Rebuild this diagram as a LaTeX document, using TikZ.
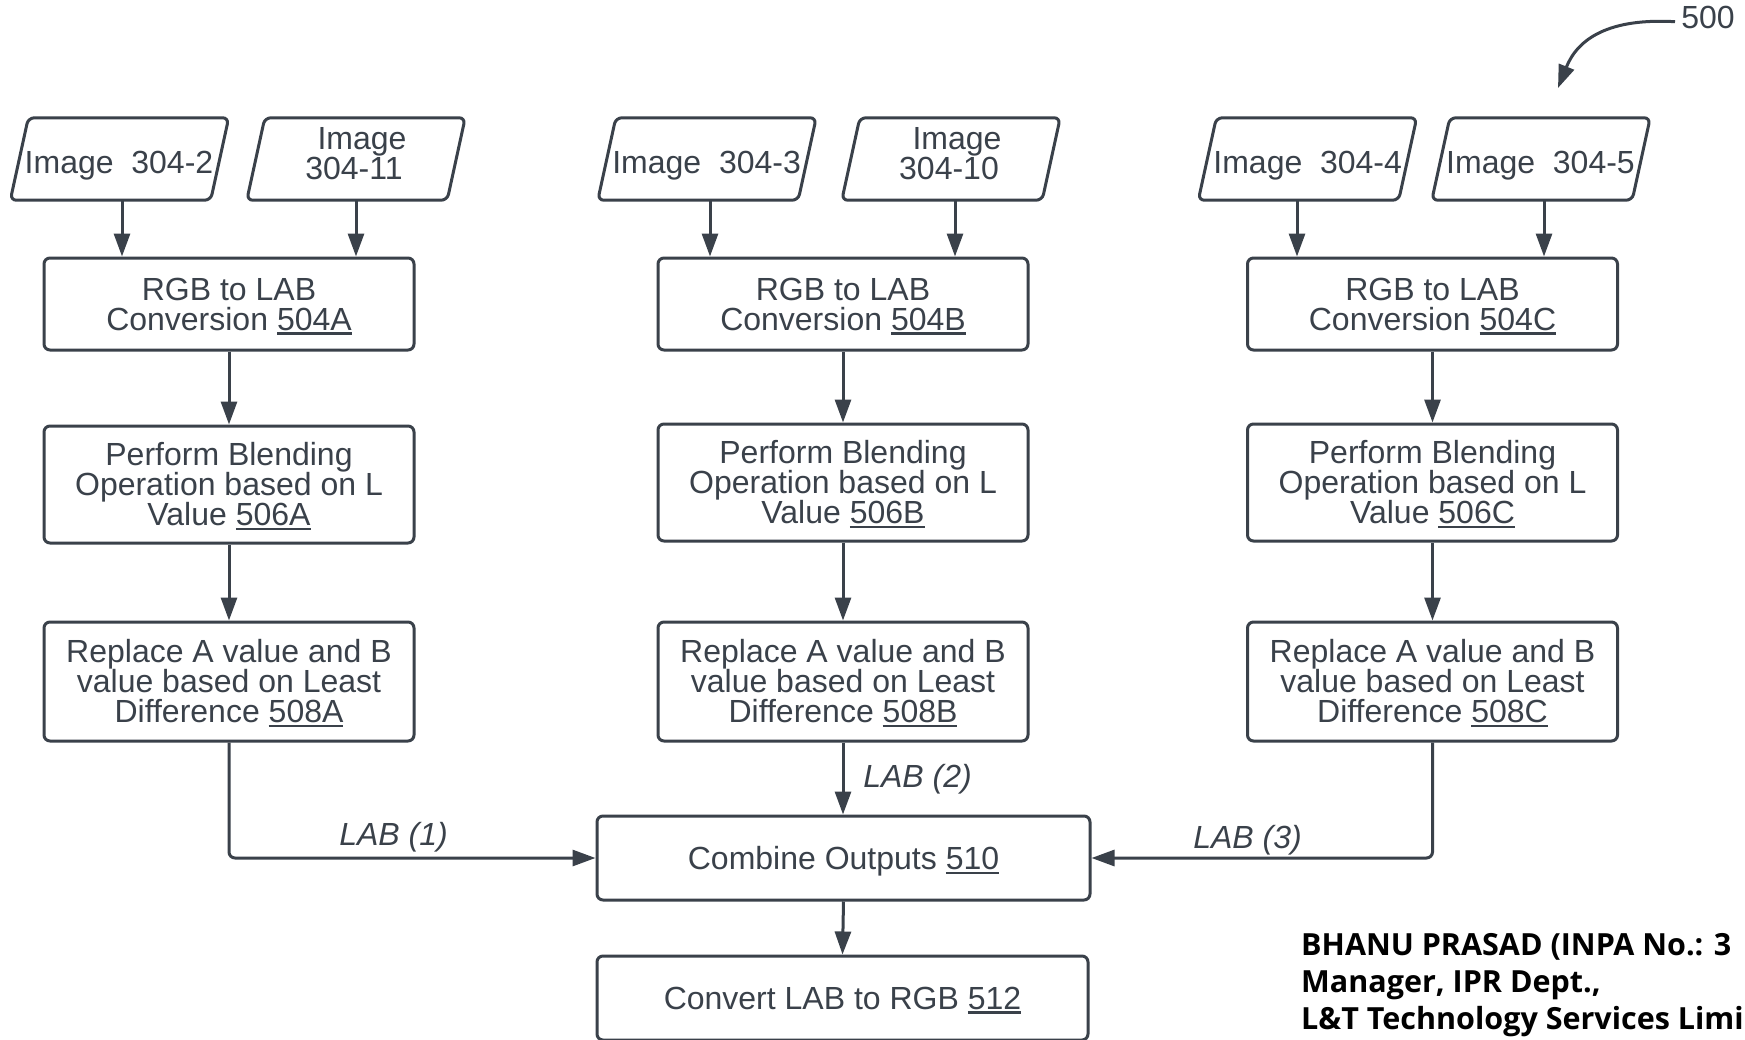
\documentclass[tikz,border=0pt]{standalone}
\usepackage{fontspec}
\setmainfont{Liberation Sans}
\newfontfamily\sigfont{Open Sans}
\usetikzlibrary{arrows.meta,calc}
\definecolor{ink}{RGB}{58,65,74}
% underlined reference numeral
\newcommand\refnum[1]{\setbox0=\hbox{#1}\rlap{\smash{\rule[-4.5pt]{\wd0}{2.2pt}}}\box0}

\begin{document}
\begin{tikzpicture}[x=1pt,y=-1pt,
  every node/.style={inner sep=0pt},
  txt/.style={font=\fontsize{32}{30}\selectfont, text=ink, align=center},
  stepbox/.style={txt, draw=ink, line width=3pt, rounded corners=6pt, minimum width=370pt},
  imgframe/.style={minimum width=218pt, minimum height=82pt},
  paraline/.style={draw=ink, line width=3pt, rounded corners=6pt},
  imgtext/.style={txt, anchor=south},
  arr/.style={draw=ink, line width=3pt, -{Triangle[length=23pt,width=16pt]}},
  lablbl/.style={font=\fontsize{32}{30}\selectfont\itshape, text=ink, anchor=base},
  sigtext/.style={font=\fontsize{30.5}{36}\selectfont\sigfont\bfseries, text=black, anchor=base west}
]
\useasboundingbox (0,0) rectangle (1745,1039);
\fill[white] (0,0) rectangle (1745,1039);

% ---- input images (parallelograms) ----
\foreach \n/\x in {p2/119.5, p11/356, p3/707, p10/951, p4/1307.5, p5/1541}{
  \node[imgframe] (\n) at (\x,159) {};
  \draw[paraline] (\n.south west) -- ($(\n.south east)+(-18,0)$) -- (\n.north east)
    -- ($(\n.north west)+(18,0)$) -- cycle;
}
\node[imgtext, text depth=0pt] (t2) at (119,173.6) {Image\ \ 304-2};
\node[imgtext] (t11) at (354,180) {\hspace*{16pt}Image\\304-11};
\node[imgtext, text depth=0pt] (t3) at (706.6,173.6) {Image\ \ 304-3};
\node[imgtext] (t10) at (949,180) {\hspace*{16pt}Image\\304-10};
\node[imgtext, text depth=0pt] (t4) at (1307.7,173.6) {Image\ \ 304-4};
\node[imgtext, text depth=0pt] (t5) at (1540.5,173.6) {Image\ \ 304-5};

% ---- processing steps ----
\node[stepbox, minimum height=92pt] (rgbA) at (229,304) {RGB to LAB\\Conversion \refnum{504A}};
\node[stepbox, minimum height=92pt] (rgbB) at (843,304) {RGB to LAB\\Conversion \refnum{504B}};
\node[stepbox, minimum height=92pt] (rgbC) at (1432.5,304) {RGB to LAB\\Conversion \refnum{504C}};

\node[stepbox, minimum height=117pt] (blA) at (229,484.5) {Perform Blending\\Operation based on L\\Value \refnum{506A}};
\node[stepbox, minimum height=117pt] (blB) at (843,482.5) {Perform Blending\\Operation based on L\\Value \refnum{506B}};
\node[stepbox, minimum height=117pt] (blC) at (1432.5,482.5) {Perform Blending\\Operation based on L\\Value \refnum{506C}};

\node[stepbox, minimum height=119pt] (repA) at (229,681.5) {Replace A value and B\\value based on Least\\Difference \refnum{508A}};
\node[stepbox, minimum height=119pt] (repB) at (843,681.5) {Replace A value and B\\value based on Least\\Difference \refnum{508B}};
\node[stepbox, minimum height=119pt] (repC) at (1432.5,681.5) {Replace A value and B\\value based on Least\\Difference \refnum{508C}};

\node[stepbox, minimum width=493pt, minimum height=84pt, text depth=0pt] (comb) at (843.5,858) {Combine Outputs \refnum{510}};
\node[stepbox, minimum width=491pt, minimum height=84pt, text depth=-1.5pt] (conv) at (842.5,998) {Convert LAB to RGB \refnum{512}};

% ---- image inputs into the conversion steps ----
\coordinate (a2) at ($(p2.south)+(2.5,0)$);
\coordinate (a11) at ($(p11.south)+(0,0)$);
\coordinate (a3) at ($(p3.south)+(3,0)$);
\coordinate (a10) at ($(p10.south)+(4,0)$);
\coordinate (a4) at ($(p4.south)+(-10.5,0)$);
\coordinate (a5) at ($(p5.south)+(3,0)$);
\draw[arr] (a2) -- (a2 |- rgbA.north);
\draw[arr] (a11) -- (a11 |- rgbA.north);
\draw[arr] (a3) -- (a3 |- rgbB.north);
\draw[arr] (a10) -- (a10 |- rgbB.north);
\draw[arr] (a4) -- (a4 |- rgbC.north);
\draw[arr] (a5) -- (a5 |- rgbC.north);

% ---- column flow ----
\foreach \c in {A,B,C}{
  \draw[arr] (rgb\c.south) -- (bl\c.north);
  \draw[arr] (bl\c.south) -- (rep\c.north);
}
\draw[arr, rounded corners=6pt] (repA.south) |- (comb.west);
\draw[arr, rounded corners=6pt] (repC.south) |- (comb.east);
\draw[arr] (repB.south) -- (repB.south |- comb.north);
\draw[arr] (comb.south) -- (conv.north);

\node[lablbl] (lab1) at (393.5,845.5) {LAB (1)};
\node[lablbl] (lab2) at (917.5,787) {LAB (2)};
\node[lablbl] (lab3) at (1247.5,848) {LAB (3)};

% ---- figure reference ----
\node[txt, anchor=base] (l500) at (1708,28.5) {500};
\coordinate (s500) at (1675,21.7);
\coordinate (e500) at (1558,88);
\draw[arr] (s500) .. controls (1610,18) and (1578,38) .. (e500);

% ---- signature block ----
\node[sigtext] (sig1) at (1301,955) {BHANU PRASAD (INPA No.: 3};
\node[sigtext] (sig2) at (1301,992) {Manager, IPR Dept.,};
\node[sigtext] (sig3) at (1301,1029) {L\&T Technology Services Limi};
\end{tikzpicture}
\end{document}
